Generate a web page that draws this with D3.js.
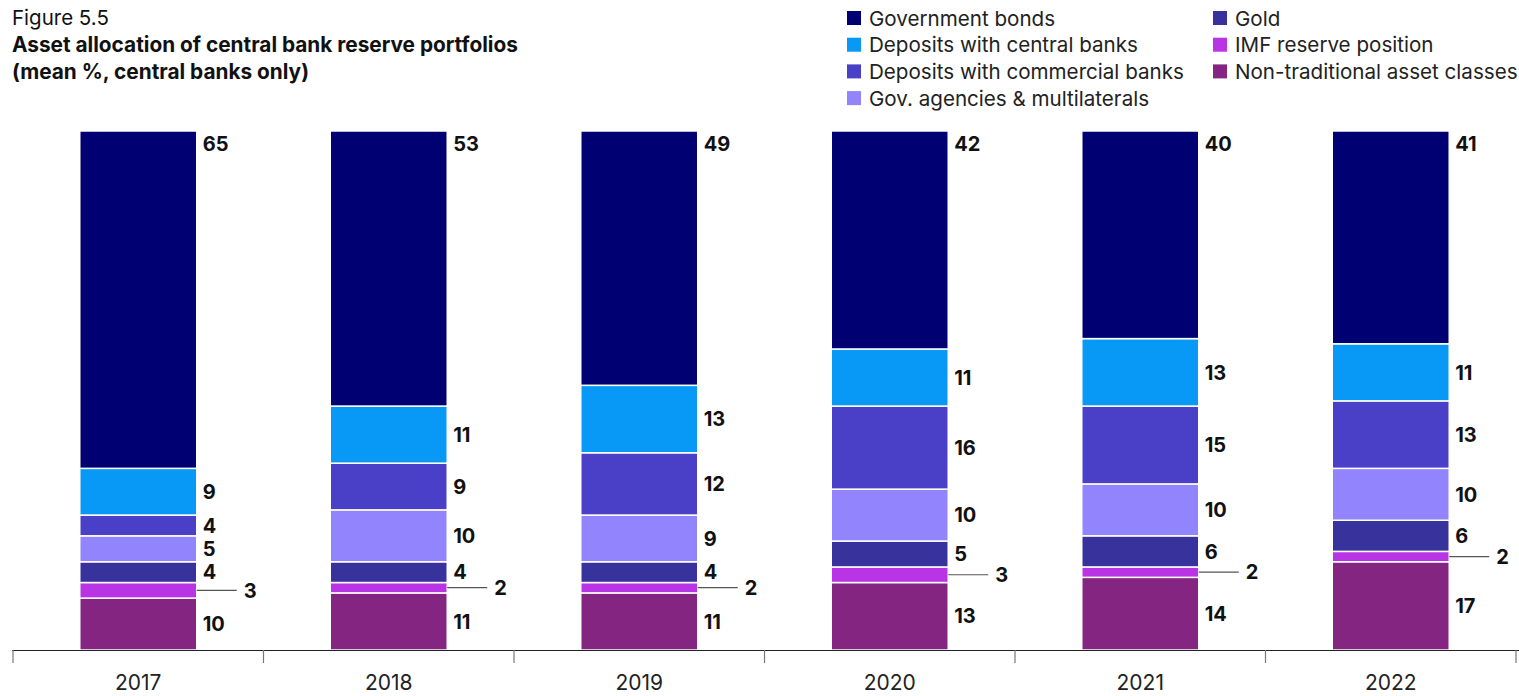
<!DOCTYPE html>
<html><head><meta charset="utf-8">
<script src="https://cdn.jsdelivr.net/npm/d3@7"></script>
<style>body{margin:0;background:#fff;} svg{display:block;font-family:Inter, "Open Sans", sans-serif;}</style>
</head><body><div id="chart"></div>
<script>
const years = ["2017","2018","2019","2020","2021","2022"];
const seriesNames = ["Non-traditional asset classes","IMF reserve position","Gold","Gov. agencies & multilaterals","Deposits with commercial banks","Deposits with central banks","Government bonds"];
const nonTraditional = [10,11,11,13,14,17];
const imfReserve = [3,2,2,3,2,2];
const gold = [4,4,4,5,6,6];
const govAgencies = [5,10,9,10,10,10];
const depositsCommercial = [4,9,12,16,15,13];
const depositsCentral = [9,11,13,11,13,11];
const governmentBonds = [65,53,49,42,40,41];
const seriesValues = [nonTraditional, imfReserve, gold, govAgencies, depositsCommercial, depositsCentral, governmentBonds];
const colors = ["#842681","#b934e5","#37329c","#9284fc","#4a40c8","#0799f5","#000073"];
const legendOrder = ["Government bonds","Deposits with central banks","Deposits with commercial banks","Gov. agencies & multilaterals","Gold","IMF reserve position","Non-traditional asset classes"];

const W=1519,H=696;
const svg=d3.select("#chart").append("svg").attr("width",W).attr("height",H);
const keys = seriesNames;
const table = years.map((y,i)=>{const o={year:y}; keys.forEach((k,j)=>o[k]=seriesValues[j][i]); return o;});
const stack = d3.stack().keys(keys)(table);
const color = d3.scaleOrdinal().domain(keys).range(colors);

const x = d3.scaleBand().domain(years).range([13,1516]).padding(0);
const y = d3.scaleLinear().domain([0,100]).range([650,131]);
const bw = x.bandwidth()*0.467;
const bx = d => x(d.data.year)+(x.bandwidth()-bw)/2;

// title
svg.append("text").attr("x",12).attr("y",25).attr("font-size",20.5).attr("fill","#111").text("Figure 5.5");
svg.append("text").attr("x",12).attr("y",52).attr("font-size",20.8).attr("font-weight","bold").attr("fill","#111").text("Asset allocation of central bank reserve portfolios");
svg.append("text").attr("x",12).attr("y",79).attr("font-size",20.8).attr("font-weight","bold").attr("fill","#111").text("(mean %, central banks only)");

// legend
const legCols=[847,1213];
legendOrder.forEach((name,i)=>{
  const col = i<4?0:1, row = i<4?i:i-4;
  const g=svg.append("g").attr("transform",`translate(${legCols[col]},${18+row*26.7})`);
  g.append("rect").attr("x",0).attr("y",-7).attr("width",14).attr("height",14).attr("fill",color(name));
  g.append("text").attr("x",22).attr("y",7.5).attr("font-size",20.6).attr("fill","#222").text(name);
});

// bars
const layers = svg.append("g").selectAll("g").data(stack).join("g").attr("fill",d=>color(d.key));
layers.selectAll("rect").data(d=>d).join("rect")
  .attr("x",bx).attr("width",bw)
  .attr("y",d=>y(d[1])).attr("height",d=>y(d[0])-y(d[1]))
  .attr("stroke","#fff").attr("stroke-width",1.5);

// labels
stack.forEach(layer=>{
  layer.forEach(d=>{
    const v = d[1]-d[0];
    const right = bx(d)+bw;
    let ly = (y(d[0])+y(d[1]))/2;
    if(layer.key==="Government bonds") ly = y(d[1])+13;
    if(layer.key==="IMF reserve position"){
      svg.append("line").attr("x1",right).attr("x2",right+40).attr("y1",ly).attr("y2",ly).attr("stroke","#555").attr("stroke-width",1.2);
      svg.append("text").attr("x",right+47).attr("y",ly).attr("dy","0.36em").attr("font-size",20).attr("font-weight","bold").attr("fill","#111").text(v);
    } else {
      svg.append("text").attr("x",right+6).attr("y",ly).attr("dy","0.36em").attr("font-size",20).attr("font-weight","bold").attr("fill","#111").text(v);
    }
  });
});

// axis
svg.append("line").attr("x1",12).attr("x2",1519).attr("y1",650.5).attr("y2",650.5).attr("stroke","#222").attr("stroke-width",1.2);
const bounds = years.map(yy=>x(yy)).concat([x.range()[1]]);
svg.append("g").selectAll("line").data(bounds).join("line")
  .attr("x1",d=>d).attr("x2",d=>d).attr("y1",650).attr("y2",663).attr("stroke","#777").attr("stroke-width",1.2);
const xAxis = svg.append("g").attr("transform","translate(0,650)").call(d3.axisBottom(x).tickSize(0).tickPadding(25));
xAxis.select(".domain").remove();
xAxis.selectAll("text").attr("font-size",21).attr("font-family","Inter, sans-serif").attr("fill","#222");
</script></body></html>
